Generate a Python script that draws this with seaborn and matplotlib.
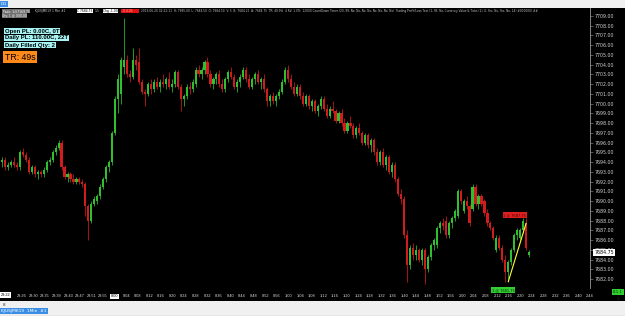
import matplotlib
matplotlib.use("Agg")
import matplotlib.pyplot as plt
import numpy as np
import pandas as pd
import seaborn as sns

# 1 minute bars
opens = [7694.0, 7694.25, 7693.5, 7693.75, 7694.0, 7693.75, 7693.5, 7695.0, 7694.75, 7694.25,
         7693.0, 7693.5, 7692.75, 7693.0, 7692.75, 7693.25, 7694.0, 7694.25, 7695.0, 7695.5,
         7696.0, 7693.5, 7692.5, 7692.75, 7692.25, 7692.0, 7692.25, 7692.0, 7691.75, 7689.5,
         7688.0, 7689.75, 7690.0, 7690.5, 7691.5, 7692.25, 7693.5, 7694.0, 7697.0, 7700.5,
         7701.0, 7703.75, 7704.5, 7703.0, 7702.75, 7704.5, 7704.25, 7702.25, 7701.25, 7701.0,
         7702.0, 7701.5, 7702.25, 7701.75, 7702.25, 7702.0, 7702.5, 7701.75, 7702.0, 7703.25,
         7701.75, 7700.5, 7700.75, 7701.75, 7701.5, 7702.0, 7703.5, 7703.0, 7703.5, 7704.25,
         7703.0, 7702.0, 7702.5, 7703.0, 7702.0, 7701.5, 7702.5, 7703.25, 7702.75, 7701.75,
         7702.25, 7702.75, 7703.5, 7702.5, 7701.75, 7702.5, 7703.0, 7702.25, 7702.5, 7701.5,
         7700.25, 7700.75, 7700.25, 7700.75, 7701.25, 7702.25, 7703.5, 7702.5, 7701.75, 7701.0,
         7701.75, 7700.75, 7700.0, 7700.75, 7699.75, 7700.25, 7699.25, 7699.75, 7700.5, 7699.5,
         7698.75, 7699.5, 7699.25, 7698.25, 7699.0, 7698.0, 7697.25, 7698.0, 7697.75, 7696.75,
         7697.5, 7697.0, 7696.0, 7696.75, 7695.75, 7696.25, 7695.0, 7694.0, 7695.0, 7693.75,
         7694.5, 7693.0, 7693.75, 7692.25, 7690.75, 7690.25, 7686.5, 7683.5, 7685.25, 7684.5,
         7685.0, 7684.0, 7685.0, 7683.0, 7684.25, 7685.5, 7685.5, 7687.25, 7687.75, 7688.0,
         7686.5, 7687.75, 7688.25, 7688.5, 7691.0, 7689.0, 7690.0, 7689.5, 7689.25, 7691.5,
         7689.75, 7690.5, 7690.0, 7688.75, 7687.75, 7687.25, 7685.0, 7686.25, 7685.25, 7684.0,
         7682.75, 7683.75, 7685.0, 7686.5, 7686.25, 7687.0, 7687.75, 7684.5]
highs = [7694.5, 7694.5, 7694.0, 7694.25, 7694.5, 7694.0, 7695.25, 7695.5, 7695.0, 7694.5,
         7693.75, 7693.75, 7693.25, 7693.25, 7693.5, 7694.25, 7694.5, 7695.25, 7695.75, 7696.25,
         7696.25, 7693.75, 7693.0, 7693.0, 7692.75, 7692.5, 7692.5, 7692.25, 7692.0, 7689.75,
         7690.0, 7690.5, 7690.75, 7691.75, 7692.5, 7693.75, 7694.25, 7697.25, 7700.75, 7703.0,
         7704.75, 7708.75, 7705.0, 7703.5, 7705.75, 7705.0, 7705.75, 7702.5, 7701.5, 7702.25,
         7702.5, 7702.5, 7702.75, 7702.5, 7703.0, 7702.75, 7703.25, 7702.5, 7703.5, 7703.5,
         7702.0, 7701.0, 7702.0, 7702.25, 7702.5, 7703.75, 7704.0, 7703.75, 7704.5, 7704.75,
         7703.5, 7702.75, 7703.25, 7703.5, 7702.5, 7702.75, 7703.5, 7703.75, 7703.0, 7702.5,
         7703.0, 7703.75, 7703.75, 7703.0, 7702.75, 7703.25, 7703.5, 7702.75, 7703.0, 7701.75,
         7701.0, 7701.25, 7701.0, 7701.5, 7702.5, 7703.75, 7704.0, 7703.0, 7702.25, 7702.0,
         7702.0, 7701.25, 7701.0, 7701.0, 7700.5, 7700.5, 7700.0, 7700.75, 7700.75, 7700.0,
         7699.75, 7700.25, 7699.5, 7699.25, 7699.5, 7698.5, 7698.25, 7698.75, 7698.0, 7697.75,
         7698.0, 7697.25, 7697.0, 7697.0, 7696.5, 7696.5, 7695.5, 7695.25, 7695.5, 7694.75,
         7694.75, 7694.0, 7694.0, 7692.5, 7691.25, 7690.5, 7687.0, 7685.5, 7685.75, 7685.5,
         7685.25, 7685.25, 7685.25, 7684.5, 7685.75, 7686.25, 7687.5, 7688.0, 7688.25, 7688.5,
         7688.0, 7688.5, 7689.25, 7691.25, 7691.25, 7690.25, 7690.5, 7689.75, 7691.75, 7691.75,
         7690.75, 7690.75, 7690.25, 7689.25, 7688.0, 7687.5, 7686.5, 7686.5, 7685.5, 7684.5,
         7684.0, 7685.25, 7686.75, 7687.25, 7687.25, 7688.25, 7688.25, 7685.0]
lows = [7693.5, 7693.25, 7693.25, 7693.5, 7693.5, 7693.25, 7693.25, 7694.5, 7694.0, 7692.75,
        7692.75, 7692.5, 7692.25, 7692.5, 7692.5, 7693.0, 7693.75, 7694.0, 7694.75, 7695.25,
        7693.25, 7692.25, 7692.0, 7692.0, 7691.75, 7691.75, 7691.75, 7691.5, 7688.5, 7686.0,
        7687.75, 7689.5, 7689.75, 7690.25, 7691.25, 7692.0, 7693.0, 7693.75, 7696.75, 7699.0,
        7700.0, 7703.0, 7702.75, 7702.25, 7702.5, 7703.5, 7702.0, 7701.0, 7699.75, 7700.75,
        7701.0, 7701.25, 7701.5, 7701.25, 7701.75, 7701.5, 7701.5, 7701.25, 7701.75, 7701.5,
        7699.25, 7699.75, 7700.5, 7701.0, 7701.25, 7701.75, 7702.75, 7702.5, 7703.0, 7702.75,
        7701.75, 7701.5, 7702.0, 7701.75, 7701.25, 7701.25, 7702.25, 7702.5, 7701.5, 7701.25,
        7701.75, 7702.5, 7702.25, 7701.5, 7701.5, 7702.0, 7702.0, 7701.5, 7701.25, 7699.75,
        7699.75, 7700.0, 7699.75, 7700.5, 7701.0, 7702.0, 7702.25, 7701.5, 7700.75, 7700.75,
        7700.5, 7699.75, 7699.75, 7699.5, 7699.25, 7699.0, 7698.75, 7699.5, 7699.25, 7698.5,
        7698.5, 7699.0, 7698.0, 7698.0, 7697.75, 7697.0, 7697.0, 7697.5, 7696.5, 7696.5,
        7696.75, 7695.75, 7695.75, 7695.5, 7695.0, 7694.75, 7693.75, 7693.75, 7693.5, 7693.25,
        7692.75, 7692.5, 7692.0, 7690.5, 7689.75, 7686.25, 7681.75, 7683.0, 7684.0, 7684.0,
        7683.75, 7683.5, 7681.5, 7682.75, 7684.0, 7685.0, 7685.25, 7686.75, 7687.0, 7686.25,
        7686.25, 7687.25, 7688.0, 7688.25, 7689.75, 7688.75, 7689.25, 7687.5, 7689.0, 7689.5,
        7689.25, 7689.5, 7688.5, 7687.5, 7687.0, 7686.0, 7684.75, 7685.0, 7683.75, 7681.75,
        7681.75, 7683.5, 7684.75, 7686.0, 7686.0, 7686.75, 7685.0, 7684.25]
closes = [7694.25, 7693.5, 7693.75, 7694.0, 7693.75, 7693.5, 7695.0, 7694.75, 7694.25, 7693.0,
          7693.5, 7692.75, 7693.0, 7692.75, 7693.25, 7694.0, 7694.25, 7695.0, 7695.5, 7696.0,
          7693.5, 7692.5, 7692.75, 7692.25, 7692.0, 7692.25, 7692.0, 7691.75, 7689.5, 7688.0,
          7689.75, 7690.25, 7690.5, 7691.5, 7692.25, 7693.5, 7694.0, 7697.0, 7700.5, 7702.5,
          7704.5, 7704.5, 7703.0, 7702.75, 7704.5, 7704.0, 7702.25, 7701.25, 7701.0, 7702.0,
          7701.5, 7702.25, 7701.75, 7702.25, 7702.0, 7702.5, 7701.75, 7702.0, 7703.25, 7701.75,
          7700.5, 7700.75, 7701.75, 7701.5, 7702.25, 7703.5, 7703.0, 7703.5, 7704.25, 7703.0,
          7702.0, 7702.5, 7703.0, 7702.0, 7701.5, 7702.5, 7703.25, 7702.75, 7701.75, 7702.25,
          7702.75, 7703.5, 7702.5, 7701.75, 7702.5, 7703.0, 7702.25, 7702.5, 7701.5, 7700.25,
          7700.75, 7700.25, 7700.75, 7701.25, 7702.25, 7703.5, 7702.5, 7701.75, 7701.0, 7701.75,
          7700.75, 7700.0, 7700.75, 7699.75, 7700.25, 7699.25, 7699.75, 7700.5, 7699.5, 7698.75,
          7699.5, 7699.25, 7698.25, 7699.0, 7698.0, 7697.25, 7698.0, 7697.75, 7696.75, 7697.5,
          7697.0, 7696.0, 7696.75, 7695.75, 7696.25, 7695.0, 7694.0, 7695.0, 7693.75, 7694.5,
          7693.0, 7693.75, 7692.25, 7690.75, 7690.25, 7686.5, 7683.5, 7685.25, 7684.5, 7685.0,
          7684.0, 7685.0, 7683.0, 7684.25, 7685.5, 7686.0, 7687.25, 7687.75, 7687.5, 7686.5,
          7687.75, 7688.25, 7689.0, 7691.0, 7690.0, 7690.0, 7689.5, 7687.75, 7691.5, 7689.75,
          7690.5, 7689.75, 7688.75, 7687.75, 7687.25, 7686.25, 7686.25, 7685.25, 7684.0, 7682.75,
          7683.75, 7685.0, 7686.5, 7687.0, 7687.0, 7688.0, 7685.25, 7684.75]

# trade marker (bar index, price)
trade_bars = [170, 176]
trade_prices = [7681.75, 7687.75]
last_price = 7684.75

time_labels = ["23:26", "23:30", "23:35", "23:39", "23:43", "23:47", "23:51", "23:55", "0:00",
               "0:04", "0:08", "0:12", "0:16", "0:20", "0:24", "0:28", "0:32", "0:36", "0:40",
               "0:44", "0:48", "0:52", "0:56", "1:00", "1:04", "1:08", "1:12", "1:16", "1:20",
               "1:24", "1:28", "1:32", "1:36", "1:40", "1:44", "1:48", "1:52", "1:56", "2:00",
               "2:04", "2:08", "2:12", "2:16", "2:20", "2:24", "2:28", "2:32", "2:36", "2:40",
               "2:44"]

df = pd.DataFrame({"open": opens, "high": highs, "low": lows, "close": closes})
df["bar"] = np.arange(len(df))
df["up"] = df["close"] >= df["open"]

sns.set_style("dark")
plt.rcParams["font.family"] = ["DejaVu Sans"]

W, H = 625, 316
fig = plt.figure(figsize=(W / 100, H / 100), dpi=100)
fig.patch.set_facecolor("#f0f0f0")

def fx(px):
    return px / W

def fy(py):
    return 1 - py / H

# black chart window
bg = fig.add_axes([0, fy(301), 1, (301 - 8) / H])
bg.set_facecolor("black")
bg.set_xticks([])
bg.set_yticks([])
for s in bg.spines.values():
    s.set_visible(False)

ax = fig.add_axes([0, fy(288), 590 / W, (288 - 8) / H])
ax.set_facecolor("black")
for s in ax.spines.values():
    s.set_visible(False)
ax.spines["right"].set_visible(True)
ax.spines["right"].set_color("#9a9a9a")
ax.spines["right"].set_linewidth(0.6)
ax.grid(False)

green = "#2fbf2f"
red = "#d01c1c"
cols = np.where(df["up"], green, red)

ax.vlines(df["bar"], df["low"], df["high"], colors=cols, linewidth=0.55)
body_lo = np.minimum(df["open"], df["close"])
body_h = np.maximum(np.abs(df["close"] - df["open"]), 0.08)
ax.bar(df["bar"], body_h, bottom=body_lo, width=0.72, color=cols, linewidth=0)

# trade line
sns.lineplot(x=trade_bars, y=trade_prices, ax=ax, color="#ffff33", linewidth=0.8)

ax.set_xlim(-0.67, 196.0)
ax.set_ylim(7681.1, 7709.82)

yt = np.arange(7682, 7710)
ax.yaxis.tick_right()
ax.set_yticks(yt)
ax.set_yticklabels([f"{v:.2f}" for v in yt], fontsize=3.4, color="#d0d0d0")
ax.tick_params(axis="y", length=2, width=0.4, color="#9a9a9a", pad=1)

xt = [(20 + 11.68 * k) / 3 for k in range(len(time_labels))]
ax.set_xticks(xt)
ax.set_xticklabels(time_labels, fontsize=2.8, color="#e0e0e0", family="Liberation Sans")
ax.tick_params(axis="x", length=1.5, width=0.4, color="#9a9a9a", pad=3)
for lab in ax.get_xticklabels():
    if lab.get_text() == "0:00":
        lab.set_color("black")
        lab.set_bbox(dict(facecolor="white", edgecolor="none", pad=0.5))

# first (session) label
fig.text(fx(1), fy(295), "23:22", fontsize=2.8, color="black", ha="left", va="center",
         family="Liberation Sans", bbox=dict(facecolor="white", edgecolor="none", pad=0.4))

# last price tag
ax.annotate(f"{last_price:.2f}", xy=(1.0, last_price), xycoords=("axes fraction", "data"),
            xytext=(3, 0), textcoords="offset points", fontsize=3.4, color="black",
            va="center", ha="left", annotation_clip=False, zorder=5,
            bbox=dict(facecolor="white", edgecolor="none", pad=0.5))

# trade labels
ax.text(172.2, 7688.6, "1 @ 7687.75", fontsize=2.6, color="#400000", ha="center", va="center",
        bbox=dict(facecolor="#e02020", edgecolor="none", pad=0.6))
ax.text(168.3, 7680.9, "1 @ 7681.75", fontsize=2.6, color="#003300", ha="center", va="center",
        clip_on=False, bbox=dict(facecolor="#33cc33", edgecolor="none", pad=0.6))

# header line
hs = 2.2
fig.text(fx(2), fy(11), "Trade: 1@7169.75", fontsize=hs, color="white", va="center",
         bbox=dict(facecolor="#707070", edgecolor="none", pad=0.3))
fig.text(fx(2), fy(15.5), "Qty: 1 @ 000.00", fontsize=hs, color="white", va="center",
         bbox=dict(facecolor="#707070", edgecolor="none", pad=0.3))
fig.text(fx(35), fy(11), "KJUSJMK19 1 Min #1", fontsize=hs, color="#c8c8c8", va="center")
fig.text(fx(77), fy(11), "C 7684.75", fontsize=hs, color="black", va="center",
         bbox=dict(facecolor="white", edgecolor="none", pad=0.3))
fig.text(fx(95), fy(11), "1-5", fontsize=hs, color="#c8c8c8", va="center")
fig.text(fx(103), fy(11), "Chg -1.00", fontsize=hs, color="black", va="center",
         bbox=dict(facecolor="white", edgecolor="none", pad=0.3))
fig.text(fx(121), fy(11), " -0.01%      ", fontsize=hs, color="#ffb0b0", va="center",
         bbox=dict(facecolor="#e01010", edgecolor="none", pad=0.3))
fig.text(fx(141), fy(11),
         "2019-06-20 02:22:11  H: 7685.00  L: 7684.50  O: 7684.50  V: 5  B: 7684.25  A: 7684.75  "
         "TR: 49.9%  4 RV: 1.0%  12000 CountDown Timer (20, 99, No, No, No, No, No, No, No, No)  "
         "Trading Profit/Loss Text (1, 95, No, Currency Value & Ticks (1), 0, Yes, No, Yes, No, 14) #000000) ##",
         fontsize=2.1, color="#c8c8c8", va="center")

# P&L boxes
pl_kw = dict(fontsize=4.3, color="black", weight="bold", family="Liberation Sans", va="center",
             bbox=dict(facecolor="#a8f4f4", edgecolor="none", pad=0.4))
fig.text(fx(5), fy(31), "Open PL: 0.00C, 0T", **pl_kw)
fig.text(fx(5), fy(38), "Daily PL: 110.00C, 22T", **pl_kw)
fig.text(fx(5), fy(45), "Daily Filled Qty: 2", **pl_kw)
fig.text(fx(5), fy(57), "TR: 49s", fontsize=6.3, color="black", family="Liberation Sans",
         va="center", bbox=dict(facecolor="#ff8a1c", edgecolor="none", pad=1.2))

# top title strip & bottom tab bar
fig.text(fx(1), fy(4), "DG", fontsize=3, color="white", va="center",
         bbox=dict(facecolor="#3a8ee6", edgecolor="none", pad=0.6))
fig.text(fx(613), fy(292), "8.1.1", fontsize=2.8, color="#003300", va="center",
         bbox=dict(facecolor="#2fcf2f", edgecolor="none", pad=0.4))
fig.text(fx(617), fy(299), "1", fontsize=2.8, color="#333333", va="center")
fig.text(fx(3), fy(304.5), "8", fontsize=3, color="#333333", va="center")
fig.text(fx(1), fy(311), "KJUSJMK19  1Min  #1", fontsize=3.2, color="white", va="center",
         bbox=dict(facecolor="#3a8ee6", edgecolor="none", pad=0.8))
fig.add_artist(plt.Line2D([0, 1], [fy(315.5), fy(315.5)], color="#404040", linewidth=0.8))

fig.savefig("out.png", dpi=100, facecolor=fig.get_facecolor())
